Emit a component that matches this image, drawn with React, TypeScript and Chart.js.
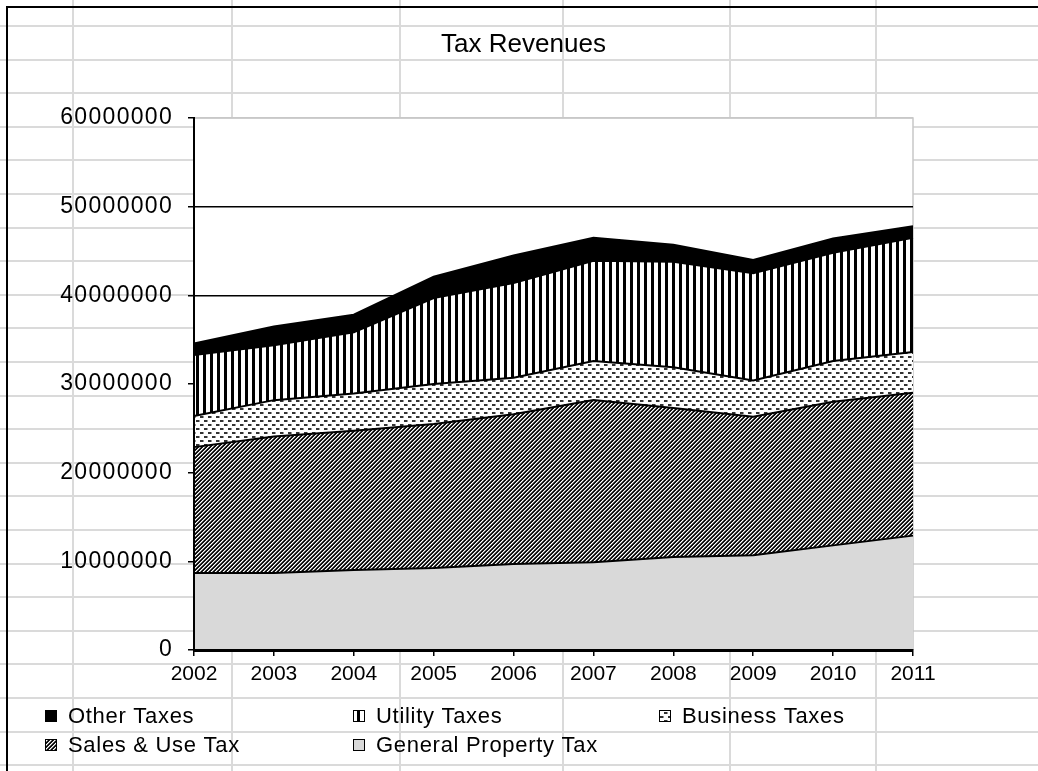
import React, { useEffect, useRef } from 'react';
import { Chart, registerables } from 'chart.js';

Chart.register(...registerables);

const years = ['2002', '2003', '2004', '2005', '2006', '2007', '2008', '2009', '2010', '2011'];
const generalProperty = [8680000, 8680000, 9020000, 9250000, 9700000, 9900000, 10500000, 10700000, 11800000, 12900000];
const salesUse = [14200000, 15400000, 15700000, 16250000, 16900000, 18300000, 16800000, 15600000, 16200000, 16100000];
const business = [3500000, 4100000, 4200000, 4500000, 4100000, 4400000, 4600000, 4100000, 4600000, 4600000];
const utility = [6900000, 6200000, 6900000, 9700000, 10700000, 11300000, 11900000, 12100000, 12200000, 12900000];
const other = [1300000, 2100000, 2000000, 2400000, 3100000, 2600000, 1900000, 1500000, 1600000, 1300000];
const yMax = 60000000;
const yStep = 10000000;

const W = 1038;
const H = 771;
const FONT = "'Liberation Sans', Arial, sans-serif";

function makePattern(w: number, h: number, paint: (x: number, y: number) => string | null) {
  const c = document.createElement('canvas');
  c.width = w;
  c.height = h;
  const g = c.getContext('2d')!;
  g.fillStyle = '#fff';
  g.fillRect(0, 0, w, h);
  for (let y = 0; y < h; y++) {
    for (let x = 0; x < w; x++) {
      const col = paint(x, y);
      if (col) {
        g.fillStyle = col;
        g.fillRect(x, y, 1, 1);
      }
    }
  }
  return g.createPattern(c, 'repeat')!;
}

function setSpacing(ctx: any, v: string) {
  if ('letterSpacing' in ctx) ctx.letterSpacing = v;
}

const sheetPlugin = {
  id: 'sheet',
  beforeDraw(chart: any) {
    const ctx = chart.ctx as CanvasRenderingContext2D;
    setSpacing(ctx, '0px');
    ctx.save();
    ctx.fillStyle = '#dadada';
    for (let y = 26; y < H; y += 33.6) ctx.fillRect(0, Math.round(y) - 1, W, 2);
    [73, 232, 400, 563, 730, 876].forEach((x) => ctx.fillRect(x - 1, 0, 2, H));
    ctx.fillStyle = '#000';
    ctx.fillRect(6, 6, W, 2);
    ctx.fillRect(6, 6, 2, H);
    const a = chart.chartArea;
    ctx.fillStyle = '#fff';
    ctx.fillRect(a.left, a.top, a.right - a.left, a.bottom - a.top);
    ctx.strokeStyle = '#c8c8c8';
    ctx.lineWidth = 1.5;
    ctx.beginPath();
    ctx.moveTo(a.left, a.top);
    ctx.lineTo(a.right, a.top);
    ctx.lineTo(a.right, a.bottom);
    ctx.stroke();
    ctx.restore();
  },
  afterDatasetsDraw(chart: any) {
    // y-axis tick labels (drawn after datasets) use wider spacing like the original
    setSpacing(chart.ctx, '1.3px');
  },
};

const legendPlugin = {
  id: 'gridLegend',
  afterDraw(chart: any) {
    const ctx = chart.ctx as CanvasRenderingContext2D;
    const cols = [45, 353, 659];
    const rows = [716, 745];
    const ds = chart.data.datasets.slice().reverse();
    setSpacing(ctx, '0.7px');
    ctx.save();
    ctx.font = `22px ${FONT}`;
    ctx.textBaseline = 'middle';
    ctx.textAlign = 'left';
    ds.forEach((d: any, i: number) => {
      const x = cols[i % 3];
      const cy = rows[Math.floor(i / 3)];
      ctx.fillStyle = d.backgroundColor;
      ctx.fillRect(x, cy - 6, 12, 12);
      ctx.strokeStyle = '#000';
      ctx.lineWidth = 1;
      ctx.strokeRect(x + 0.5, cy - 5.5, 11, 11);
      ctx.fillStyle = '#000';
      ctx.fillText(d.label, x + 23, cy + 1);
    });
    ctx.restore();
    setSpacing(ctx, '0px');
  },
};

export default function App() {
  const ref = useRef<HTMLCanvasElement | null>(null);
  useEffect(() => {
    if (!ref.current) return;
    Chart.defaults.font.family = FONT;
    const hatchShades: Record<number, string | null> = { 0: '#000', 1: '#222', 2: null, 3: '#888' };
    const hatch = makePattern(4, 4, (x, y) => hatchShades[(x + y) % 4]);
    const dots = makePattern(8, 8, (x, y) => {
      if ((y === 0 || y === 1) && x < 3) return '#333';
      if ((y === 0 || y === 1) && x === 3) return '#999';
      if ((y === 4 || y === 5) && x >= 4 && x < 7) return '#333';
      if ((y === 4 || y === 5) && x === 7) return '#999';
      return null;
    });
    const stripes = makePattern(7, 1, (x) => (x < 3 ? '#000' : null));
    const base = { borderColor: '#000', borderWidth: 2, pointRadius: 0, tension: 0 };
    const chart = new Chart(ref.current, {
      type: 'line',
      data: {
        labels: years,
        datasets: [
          { ...base, label: 'General Property Tax', data: generalProperty, backgroundColor: '#d9d9d9', fill: 'origin' },
          { ...base, label: 'Sales & Use Tax', data: salesUse, backgroundColor: hatch, fill: '-1' },
          { ...base, label: 'Business Taxes', data: business, backgroundColor: dots, fill: '-1' },
          { ...base, label: 'Utility Taxes', data: utility, backgroundColor: stripes, fill: '-1' },
          { ...base, label: 'Other Taxes', data: other, backgroundColor: '#000', fill: '-1' },
        ] as any,
      },
      options: {
        responsive: false,
        animation: false,
        devicePixelRatio: 1,
        events: [],
        layout: { padding: { left: 9, right: 0, top: 0, bottom: 81 } },
        plugins: {
          legend: { display: false },
          tooltip: { enabled: false },
          title: {
            display: true,
            text: 'Tax Revenues',
            color: '#000',
            font: { size: 26, weight: 'normal', lineHeight: 1.2, family: FONT },
            padding: { top: 29.4, bottom: 57.4 },
          },
        },
        scales: {
          x: {
            type: 'category',
            offset: false,
            grid: { display: true, drawOnChartArea: false, drawTicks: true, tickLength: 6, color: '#000', lineWidth: 1.5, offset: false },
            border: { display: true, color: '#000', width: 3, z: 1 },
            ticks: { color: '#000', font: { size: 21, family: FONT }, padding: 6, maxRotation: 0, autoSkip: false, z: 0 },
            afterFit: (s: any) => { s.height = 40; },
          },
          y: {
            stacked: true,
            min: 0,
            max: yMax,
            ticks: { stepSize: yStep, color: '#000', font: { size: 23, family: FONT }, padding: 15, z: 1, callback: (v: any) => String(v) },
            grid: {
              color: (c: any) => (c.tick && c.tick.value === yMax ? '#c8c8c8' : '#000'),
              tickColor: '#000',
              lineWidth: 1.5,
              tickLength: 6,
            },
            border: { color: '#000', width: 2, z: 1 },
            afterFit: (s: any) => { s.width = 185; },
          },
          y2: {
            position: 'right',
            display: true,
            grid: { display: false },
            ticks: { display: false },
            border: { display: false },
            afterFit: (s: any) => { s.width = 125; },
          },
        },
      } as any,
      plugins: [sheetPlugin, legendPlugin],
    });
    return () => chart.destroy();
  }, []);
  return (
    <div style={{ position: 'absolute', left: 0, top: 0, width: W, height: H }}>
      <canvas ref={ref} width={W} height={H} style={{ display: 'block', width: W, height: H }} />
    </div>
  );
}
